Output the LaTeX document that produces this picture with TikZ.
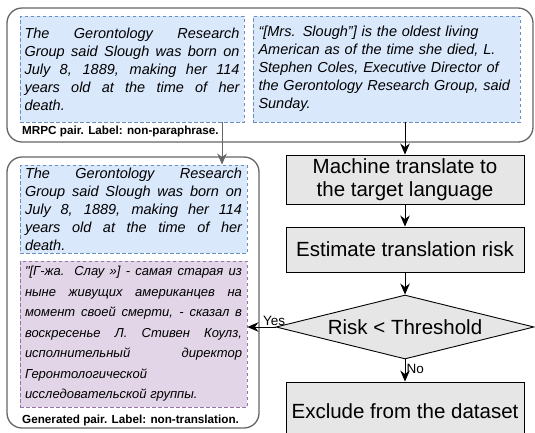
\documentclass[tikz,border=0pt]{standalone}
\usepackage{fontspec}
\setmainfont{Liberation Sans}
\usetikzlibrary{shapes.geometric, arrows.meta}
\definecolor{panelgray}{HTML}{666666}
\definecolor{bluefill}{HTML}{DAE8FC}
\definecolor{blueline}{HTML}{6C8EBF}
\definecolor{purplefill}{HTML}{E1D5E7}
\definecolor{purpleline}{HTML}{9673A6}
\definecolor{stepfill}{HTML}{E6E6E6}
\tikzstyle{panel}=[draw=panelgray, line width=1.3pt, rounded corners=15pt, inner sep=0pt]
\tikzstyle{pairbox}=[draw=blueline, fill=bluefill, dash pattern=on 3.5pt off 2.5pt, line width=0.9pt, inner sep=0pt, font=\fontsize{14.5}{18}\selectfont\itshape]
\tikzstyle{rubox}=[pairbox, draw=purpleline, fill=purplefill, font=\fontsize{13}{20.5}\selectfont\itshape]
\tikzstyle{stepbox}=[draw, fill=stepfill, line width=0.9pt, minimum width=238pt, inner sep=0pt, align=center, font=\fontsize{20.5}{23.5}\selectfont]
\tikzstyle{decision}=[diamond, aspect=4, draw, fill=stepfill, line width=0.9pt, minimum width=258pt, minimum height=64pt, inner sep=0pt, font=\fontsize{20.5}{23.5}\selectfont]
\tikzstyle{pairtag}=[anchor=west, inner sep=0pt, font=\fontsize{11.7}{14}\selectfont\bfseries]
\tikzstyle{arr}=[-{Stealth[length=11pt, width=9.5pt]}, line width=1pt]
\tikzstyle{grayarr}=[arr, draw=panelgray]
\tikzstyle{yesno}=[inner sep=1pt, font=\fontsize{13.5}{16}\selectfont]

\begin{document}
\begin{tikzpicture}[x=1pt, y=-1pt]
\useasboundingbox (0,0) rectangle (535,432);
% Panels
    \node[panel, minimum width=526pt, minimum height=134pt] (mrpc) at (270,75) {};
    \node[panel, minimum width=252pt, minimum height=271pt] (gen) at (133,292.5) {};
% Sentence boxes
    \node[pairbox, minimum width=224pt, minimum height=106pt, text width=215pt, align=justify] (pairA) at (132,69)
        {The Gerontology Research\linebreak Group said Slough was born on\linebreak July 8, 1889, making her 114\linebreak years old at the time of her\linebreak death.};
    \node[pairbox, minimum width=267pt, minimum height=106pt, text width=256pt, align=left] (pairB) at (386.5,69)
        {“[Mrs. Slough”] is the oldest living\\American as of the time she died, L.\\Stephen Coles, Executive Director of\\the Gerontology Research Group, said\\Sunday.};
    \node[pairbox, minimum width=227pt, minimum height=88pt, text width=217pt, align=justify] (pairA2) at (133.5,209)
        {The Gerontology Research\linebreak Group said Slough was born on\linebreak July 8, 1889, making her 114\linebreak years old at the time of her\linebreak death.};
    \node[rubox, minimum width=227pt, minimum height=146pt, text width=217pt, align=justify] (ru) at (133.5,334)
        {\textquotedbl[Г-жа. Слау »] - самая старая из\linebreak ныне живущих американцев на\linebreak момент своей смерти, - сказал в\linebreak воскресенье Л. Стивен Коулз,\linebreak исполнительный директор\linebreak Геронтологической\newline исследовательской группы.};
% Captions
    \node[pairtag] (mrpctag) at (22,131) {MRPC pair. Label: non-paraphrase.};
    \node[pairtag] (gentag) at (22,420) {Generated pair. Label: non-translation.};
% Pipeline
    \node[stepbox, minimum height=49pt] (trans) at (405,179.5) {Machine translate to\\the target language};
    \node[stepbox, minimum height=45pt] (est) at (405,249.5) {Estimate translation risk};
    \node[decision] (risk) at (405,327) {Risk < Threshold};
    \node[stepbox, minimum height=58pt] (excl) at (405,411) {Exclude from the dataset};
% Arrows
    \draw[grayarr] ([xshift=90pt]pairA.south) -- ([xshift=90pt]pairA.south |- pairA2.north);
    \draw[arr] (trans.north |- pairB.south) -- (trans.north);
    \draw[arr] (trans) -- (est);
    \draw[arr] (est) -- (risk);
    \draw[arr] (risk.west) -- node[yesno, above, pos=0.05] {Yes} (risk.west -| ru.east);
    \draw[arr] (risk) -- node[yesno, right, pos=0.45] {No} (excl);
\end{tikzpicture}
\end{document}
